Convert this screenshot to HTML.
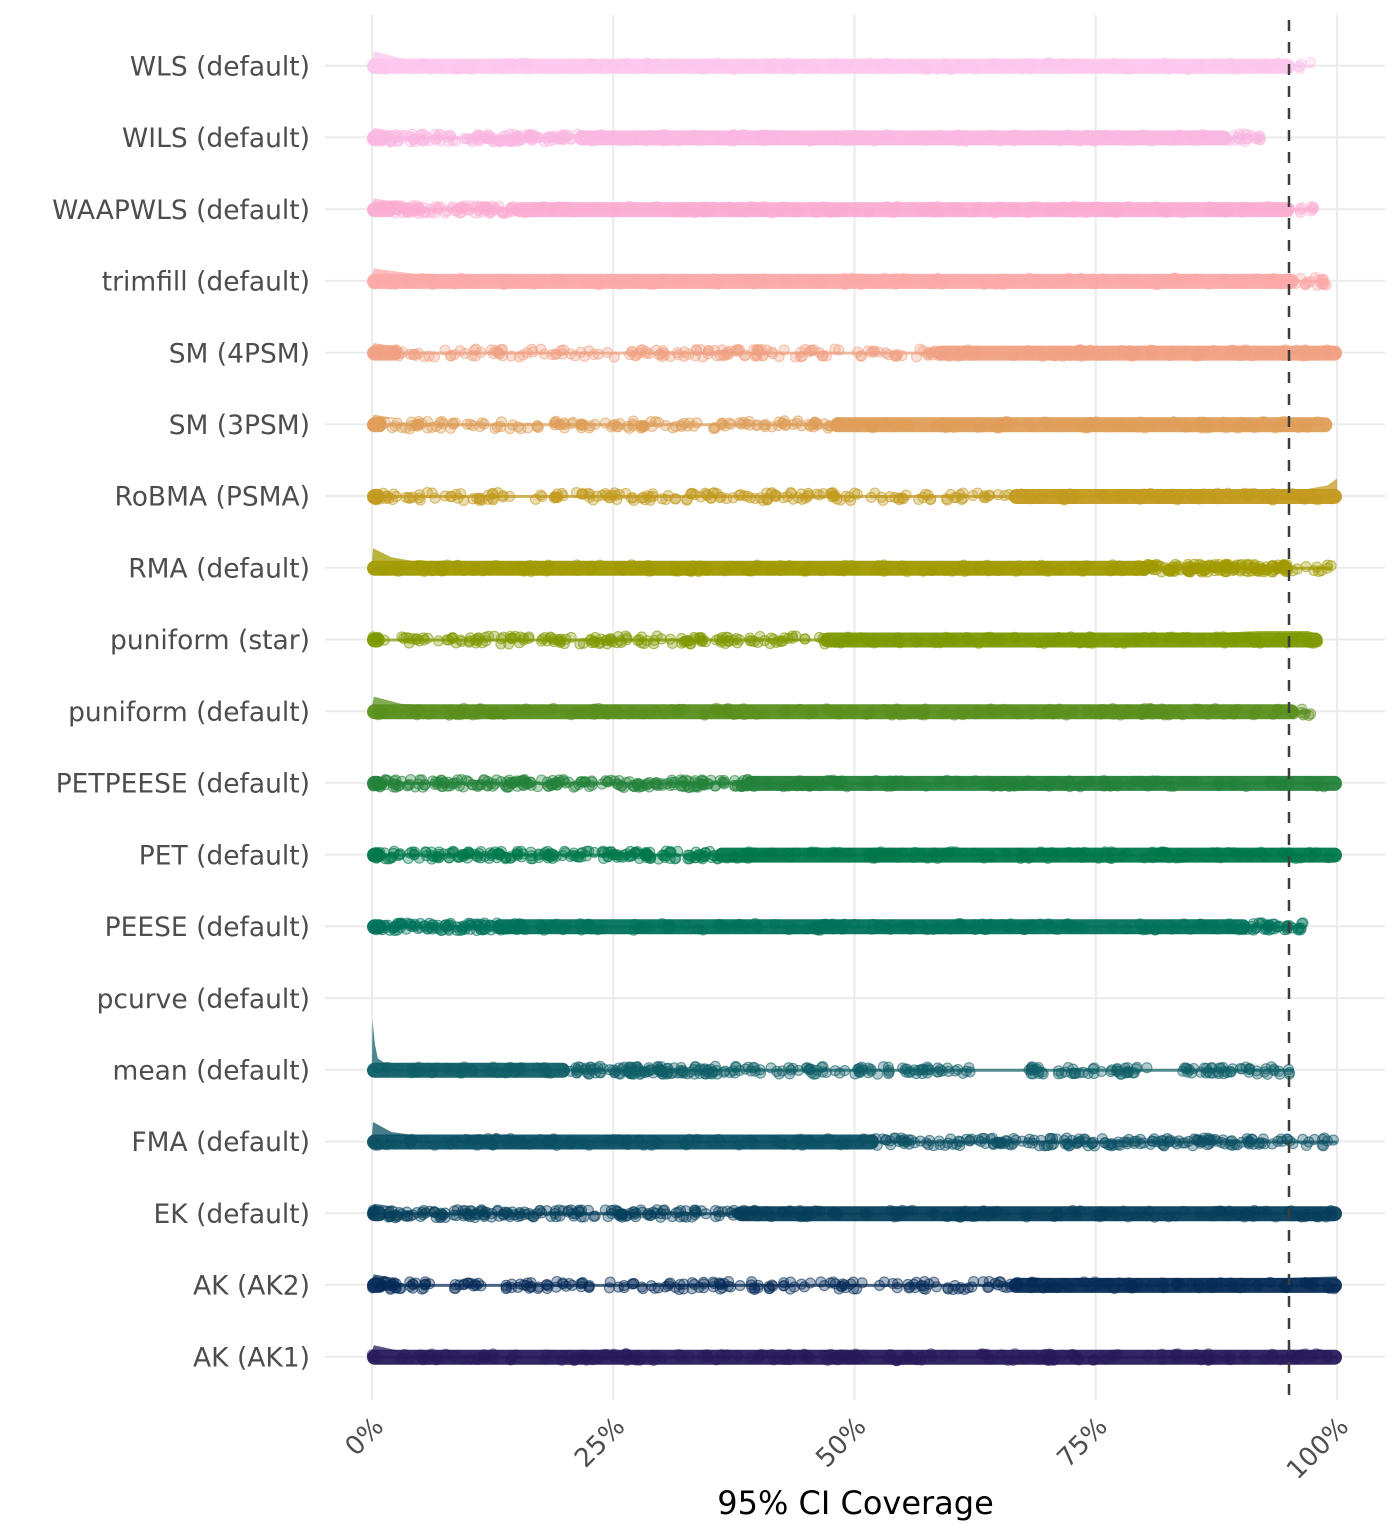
<!DOCTYPE html>
<html><head><meta charset="utf-8">
<style>
html,body{margin:0;padding:0;background:#fff;}
svg{display:block;}
text{font-family:"DejaVu Sans","Liberation Sans",sans-serif;}
</style></head>
<body>
<svg id="s" width="1400" height="1536" viewBox="0 0 1400 1536" xmlns="http://www.w3.org/2000/svg">
<rect width="1400" height="1536" fill="#fff"/>
<g stroke="#ebebeb" stroke-width="2" fill="none">
<line x1="372" y1="15" x2="372" y2="1400"/>
<line x1="613.25" y1="15" x2="613.25" y2="1400"/>
<line x1="854.5" y1="15" x2="854.5" y2="1400"/>
<line x1="1095.75" y1="15" x2="1095.75" y2="1400"/>
<line x1="1337" y1="15" x2="1337" y2="1400"/>
<line x1="325" y1="65.7" x2="1385" y2="65.7"/>
<line x1="325" y1="137.4" x2="1385" y2="137.4"/>
<line x1="325" y1="209.1" x2="1385" y2="209.1"/>
<line x1="325" y1="280.9" x2="1385" y2="280.9"/>
<line x1="325" y1="352.6" x2="1385" y2="352.6"/>
<line x1="325" y1="424.3" x2="1385" y2="424.3"/>
<line x1="325" y1="496.0" x2="1385" y2="496.0"/>
<line x1="325" y1="567.7" x2="1385" y2="567.7"/>
<line x1="325" y1="639.5" x2="1385" y2="639.5"/>
<line x1="325" y1="711.2" x2="1385" y2="711.2"/>
<line x1="325" y1="782.9" x2="1385" y2="782.9"/>
<line x1="325" y1="854.6" x2="1385" y2="854.6"/>
<line x1="325" y1="926.3" x2="1385" y2="926.3"/>
<line x1="325" y1="998.1" x2="1385" y2="998.1"/>
<line x1="325" y1="1069.8" x2="1385" y2="1069.8"/>
<line x1="325" y1="1141.5" x2="1385" y2="1141.5"/>
<line x1="325" y1="1213.2" x2="1385" y2="1213.2"/>
<line x1="325" y1="1284.9" x2="1385" y2="1284.9"/>
<line x1="325" y1="1356.7" x2="1385" y2="1356.7"/>
</g>
<g id="data"></g>
<line x1="1289" y1="20" x2="1289" y2="1400" stroke="#3d3d3d" stroke-width="2.5" stroke-dasharray="11 11"/>
<g font-size="26.5" fill="#4d4d4d" text-anchor="end">
<text x="310" y="75.4">WLS (default)</text>
<text x="310" y="147.1">WILS (default)</text>
<text x="310" y="218.8">WAAPWLS (default)</text>
<text x="310" y="290.6">trimfill (default)</text>
<text x="310" y="362.3">SM (4PSM)</text>
<text x="310" y="434">SM (3PSM)</text>
<text x="310" y="505.7">RoBMA (PSMA)</text>
<text x="310" y="577.4">RMA (default)</text>
<text x="310" y="649.2">puniform (star)</text>
<text x="310" y="720.9">puniform (default)</text>
<text x="310" y="792.6">PETPEESE (default)</text>
<text x="310" y="864.3">PET (default)</text>
<text x="310" y="936">PEESE (default)</text>
<text x="310" y="1007.8">pcurve (default)</text>
<text x="310" y="1079.5">mean (default)</text>
<text x="310" y="1151.2">FMA (default)</text>
<text x="310" y="1222.9">EK (default)</text>
<text x="310" y="1294.6">AK (AK2)</text>
<text x="310" y="1366.4">AK (AK1)</text>
</g>
<g font-size="26" fill="#4d4d4d" text-anchor="end">
<text x="385" y="1428" transform="rotate(-45 385 1428)">0%</text>
<text x="626.25" y="1428" transform="rotate(-45 626.25 1428)">25%</text>
<text x="867.5" y="1428" transform="rotate(-45 867.5 1428)">50%</text>
<text x="1108.75" y="1428" transform="rotate(-45 1108.75 1428)">75%</text>
<text x="1350" y="1428" transform="rotate(-45 1350 1428)">100%</text>
</g>
<text x="855.5" y="1514" font-size="32" fill="#000" text-anchor="middle">95% CI Coverage</text>
</svg>
<script>
(function(){
var NS="http://www.w3.org/2000/svg";
var g=document.getElementById("data");
var seed=12345;
function rnd(){seed|=0;seed=seed+0x6D2B79F5|0;var t=Math.imul(seed^seed>>>15,1|seed);t=t+Math.imul(t^t>>>7,61|t)^t;return((t^t>>>14)>>>0)/4294967296;}
function xp(p){return 372+p*9.65;}
function el(n,a){var e=document.createElementNS(NS,n);for(var k in a)e.setAttribute(k,a[k]);g.appendChild(e);return e;}
var rows=[
{y:65.7,c:'#fcc7ee',segs:[['d',0,95],['s',95,97.6,8]],ridge:[[0,0],[0.2,9],[3,2],[6,0]]},
{y:137.4,c:'#fab7e2',segs:[['d',0,1.2],['m',1.2,21.5,140],['d',21.5,88.5],['m',88.5,92.3,20]],ridge:[[0,0],[0.2,4],[3,0]]},
{y:209.1,c:'#fbadd1',segs:[['d',0,2],['m',2,15,90],['d',15,95],['s',95,97.6,9]],ridge:[[0,0],[0.2,5],[4,0]]},
{y:280.9,c:'#fba9a9',segs:[['d',0,95.5],['m',95.5,99,18]],ridge:[[0,0],[0.2,7],[4,2],[8,0]]},
{y:352.6,c:'#f1a183',segs:[['d',0,2.5],['s',2.5,58.7,160],['d',58.7,100]],ridge:[[0,0],[0.2,4],[3,0]]},
{y:424.3,c:'#df9e59',segs:[['d',0,1],['s',1,48,145],['d',48,99]],ridge:[[0,0],[0.2,4],[3,0]]},
{y:496.0,c:'#c39a1e',segs:[['d',0,0.8],['s',0.8,66.5,190],['d',66.5,100]],ridge:[[96,0],[99,5],[100,12],[100,0]]},
{y:567.7,c:'#a19a00',segs:[['d',0,80],['m',80,95,160],['s',95,99.4,10]],ridge:[[0,0],[0.1,14],[2,5],[5,0]]},
{y:639.5,c:'#7e9900',segs:[['d',0,0.8],['s',0.8,47,160],['d',47,98]],ridge:[[85,0],[92,3],[97,3],[98,0]]},
{y:711.2,c:'#5a901e',segs:[['d',0,95.5],['s',95.5,97.3,7]],ridge:[[0,0],[0.2,9],[3,2],[7,0]]},
{y:782.9,c:'#23823a',segs:[['d',0,0.8],['m',0.8,39,220],['d',39,100]],ridge:[]},
{y:854.6,c:'#00784b',segs:[['d',0,0.8],['m',0.8,36,200],['d',36,100]],ridge:[]},
{y:926.3,c:'#00725c',segs:[['d',0,1],['m',1,13,90],['d',13,90.5],['m',90.5,96.5,40]],ridge:[]},
{y:1069.8,c:'#0f5f67',segs:[['d',0,20],['m',20,38,120],['s',38,49,35],['s',50,62,50],['s',68,81,50],['s',84,95.5,48]],ridge:[[0,0],[0.05,44],[0.3,20],[0.6,6],[1.2,2],[3,0]]},
{y:1141.5,c:'#0b5064',segs:[['d',0,52],['m',52,100,200]],ridge:[[0,0],[0.1,14],[2,4],[5,0]]},
{y:1213.2,c:'#073f5b',segs:[['d',0,1],['m',1,38,180],['d',38,100]],ridge:[[0,0],[0.2,4],[3,0]]},
{y:1284.9,c:'#062c57',segs:[['d',0,1],['s',1,6,30],['s',8.5,12,14],['s',13,17.5,16],['s',17.5,23,18],['s',24.5,66.5,120],['d',66.5,100]],ridge:[[0,0],[0.2,5],[3,0],[90,0],[100,3],[100,0]]},
{y:1356.7,c:'#271a5c',segs:[['d',0,100]],ridge:[[0,0],[0.2,6],[3,0]]}
];
rows.forEach(function(r){
 var cy=r.y+0.5,c=r.c,mx=0;
 r.segs.forEach(function(s){if(s[2]>mx)mx=s[2];});
 if(r.ridge.length){
  var d='M'+xp(r.ridge[0][0])+' '+(cy-6);
  r.ridge.forEach(function(p){d+=' L'+xp(p[0]).toFixed(1)+' '+(cy-6-p[1]).toFixed(1);});
  d+=' L'+xp(r.ridge[r.ridge.length-1][0])+' '+(cy-6)+' Z';
  el('path',{d:d,fill:c,'fill-opacity':0.75});
 }
 el('line',{x1:xp(0),y1:cy,x2:xp(mx),y2:cy,stroke:c,'stroke-width':3,'stroke-opacity':0.7});
 r.segs.forEach(function(s){
  var a=xp(s[1]),b=xp(s[2]);
  if(s[0]=='d'){
   el('rect',{x:a-5,y:cy-7.5,width:(b-a)+10,height:15,rx:7.5,fill:c,'fill-opacity':0.95});
   var n=Math.round((b-a)/4)+2;
   for(var i=0;i<n;i++){
    var x=a+rnd()*(b-a),y=cy+(rnd()*2-1)*3.5;
    el('circle',{cx:x.toFixed(1),cy:y.toFixed(1),r:5,fill:c,'fill-opacity':0.35,stroke:c,'stroke-opacity':0.5,'stroke-width':1});
   }
  } else {
   var n2=s[3];
   for(var j=0;j<n2;j++){
    var x2=a+rnd()*(b-a),y2=cy+(rnd()*2-1)*4;
    el('circle',{cx:x2.toFixed(1),cy:y2.toFixed(1),r:5,fill:c,'fill-opacity':0.33,stroke:c,'stroke-opacity':0.6,'stroke-width':1.1});
   }
  }
 });
});
})();
</script>
</body></html>
